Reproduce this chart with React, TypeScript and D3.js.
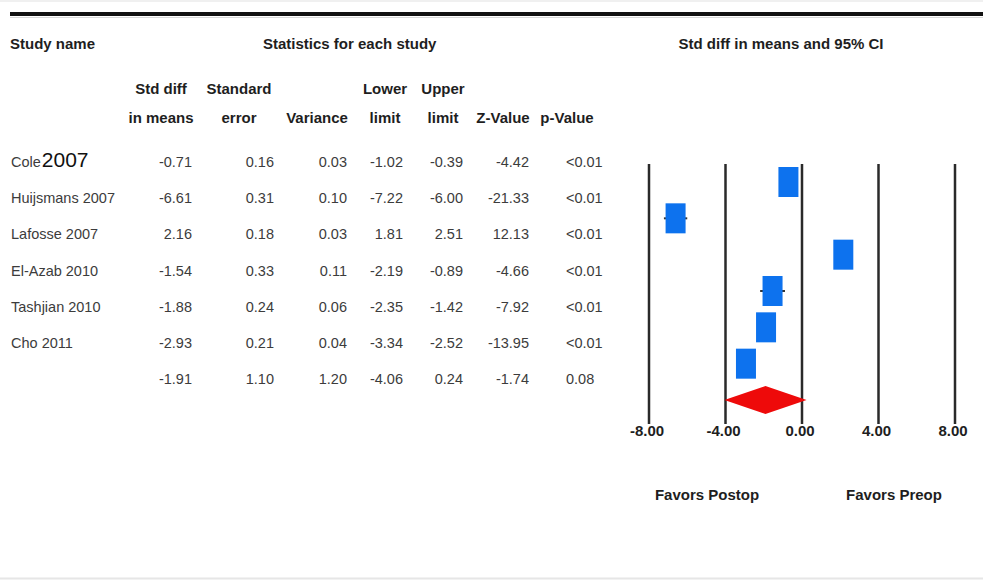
import React from "react";
import * as d3 from "d3";

// ---------- data ----------
const studyNames = ["Cole", "Huijsmans", "Lafosse", "El-Azab", "Tashjian", "Cho"];
const studyYears = ["2007", "2007", "2007", "2010", "2010", "2011"];
const stdDiff = [-0.71, -6.61, 2.16, -1.54, -1.88, -2.93];
const stdErr = [0.16, 0.31, 0.18, 0.33, 0.24, 0.21];
const variance = [0.03, 0.1, 0.03, 0.11, 0.06, 0.04];
const lowerLimit = [-1.02, -7.22, 1.81, -2.19, -2.35, -3.34];
const upperLimit = [-0.39, -6.0, 2.51, -0.89, -1.42, -2.52];
const zValue = [-4.42, -21.33, 12.13, -4.66, -7.92, -13.95];
const pValue = ["<0.01", "<0.01", "<0.01", "<0.01", "<0.01", "<0.01"];

const summaryStdDiff = -1.91;
const summaryStdErr = 1.1;
const summaryVariance = 1.2;
const summaryLower = -4.06;
const summaryUpper = 0.24;
const summaryZ = -1.74;
const summaryP = "0.08";

const axisTicks = [-8, -4, 0, 4, 8];
const favorLabels = ["Favors Postop", "Favors Preop"];

// ---------- layout ----------
const W = 983;
const H = 580;
const FONT = "'Liberation Sans', Arial, sans-serif";
const HEAD = "#1e1e1e";
const BODY = "#3c3c3c";
const BLUE = "#0d72ee";
const RED = "#ee0a0a";

const fmt = d3.formatLocale({
  decimal: ".",
  thousands: ",",
  grouping: [3],
  currency: ["", ""],
  minus: "-",
}).format(".2f");

export default function App() {
  const x = d3.scaleLinear().domain([-8, 8]).range([649, 955]);
  const nRows = studyNames.length + 1;
  // table row baselines
  const rowY = d3.scaleLinear().domain([0, nRows - 1]).range([167, 384]);
  // plot marker centres (plot is shifted below the table rows)
  const markY = d3.scaleLinear().domain([0, nRows - 1]).range([182, 400]);

  const numCols: { right: number; vals: number[]; sum: number }[] = [
    { right: 192, vals: stdDiff, sum: summaryStdDiff },
    { right: 274, vals: stdErr, sum: summaryStdErr },
    { right: 347, vals: variance, sum: summaryVariance },
    { right: 403, vals: lowerLimit, sum: summaryLower },
    { right: 463, vals: upperLimit, sum: summaryUpper },
    { right: 529, vals: zValue, sum: summaryZ },
  ];

  const colHeads: { cx: number; l1: string; l2: string }[] = [
    { cx: 161, l1: "Std diff", l2: "in means" },
    { cx: 239, l1: "Standard", l2: "error" },
    { cx: 317, l1: "", l2: "Variance" },
    { cx: 385, l1: "Lower", l2: "limit" },
    { cx: 443, l1: "Upper", l2: "limit" },
    { cx: 503, l1: "", l2: "Z-Value" },
    { cx: 567, l1: "", l2: "p-Value" },
  ];

  const boxW = 20;
  const boxH = 30;
  const dY = markY(nRows - 1);
  const diamond = [
    [x(summaryLower), dY],
    [x(summaryStdDiff), dY - 14],
    [x(summaryUpper), dY],
    [x(summaryStdDiff), dY + 14],
  ];

  return (
    <svg
      width={W}
      height={H}
      viewBox={`0 0 ${W} ${H}`}
      style={{ position: "absolute", left: 0, top: 0, background: "#fff" }}
      fontFamily={FONT}
    >
      <rect x={0} y={0} width={W} height={H} fill="#fff" />
      {/* top rule */}
      <line x1={0} x2={W} y1={1} y2={1} stroke="#f0f0f0" strokeWidth={2} />
      <line x1={10} x2={W} y1={14} y2={14} stroke="#111" strokeWidth={4} />
      <line x1={10} x2={W} y1={17.5} y2={17.5} stroke="#d8d8d8" strokeWidth={1} />
      {/* bottom rule */}
      <line x1={0} x2={W} y1={578.5} y2={578.5} stroke="#e6e6e6" strokeWidth={2} />

      {/* headers */}
      <g fontWeight="bold" fontSize={15} fill={HEAD}>
        <text x={10} y={49}>Study name</text>
        <text x={263} y={49}>Statistics for each study</text>
        <text x={781} y={49} textAnchor="middle">Std diff in means and 95% CI</text>
        {colHeads.map((h, i) => (
          <g key={i}>
            {h.l1 && (
              <text x={h.cx} y={94} textAnchor="middle">{h.l1}</text>
            )}
            <text x={h.cx} y={123} textAnchor="middle">{h.l2}</text>
          </g>
        ))}
      </g>

      {/* table rows */}
      <g fontSize={14.5} fill={BODY}>
        {studyNames.map((n, i) =>
          i === 0 ? (
            <text key={i} x={11} y={rowY(i)}>
              {n}
              <tspan fontSize={21} fill="#111" dx={1}>{studyYears[i]}</tspan>
            </text>
          ) : (
            <text key={i} x={11} y={rowY(i)}>{`${n} ${studyYears[i]}`}</text>
          )
        )}
        {numCols.map((c, ci) => (
          <g key={ci}>
            {c.vals.map((v, i) => (
              <text key={i} x={c.right} y={rowY(i)} textAnchor="end">{fmt(v)}</text>
            ))}
            <text x={c.right} y={rowY(nRows - 1)} textAnchor="end">{fmt(c.sum)}</text>
          </g>
        ))}
        {pValue.map((p, i) => (
          <text key={i} x={566} y={rowY(i)}>{p}</text>
        ))}
        <text x={566} y={rowY(nRows - 1)}>{summaryP}</text>
      </g>

      {/* forest plot grid */}
      <g>
        {axisTicks.map((t) => (
          <line key={t} x1={x(t)} x2={x(t)} y1={164} y2={424} stroke="#2a2a2a" strokeWidth={2.5} />
        ))}
      </g>

      {/* CIs and boxes */}
      <g>
        {stdDiff.map((v, i) => (
          <g key={i}>
            <line
              x1={x(lowerLimit[i])}
              x2={x(upperLimit[i])}
              y1={markY(i)}
              y2={markY(i)}
              stroke="#333"
              strokeWidth={2}
            />
            <rect
              x={x(v) - boxW / 2}
              y={markY(i) - boxH / 2}
              width={boxW}
              height={boxH}
              fill={BLUE}
            />
          </g>
        ))}
        <polygon points={diamond.map((p) => p.join(",")).join(" ")} fill={RED} />
      </g>

      {/* axis labels */}
      <g fontWeight="bold" fontSize={15} fill={HEAD}>
        {axisTicks.map((t) => (
          <text key={t} x={x(t) - 2} y={436} textAnchor="middle">{fmt(t)}</text>
        ))}
        <text x={707} y={500} textAnchor="middle">{favorLabels[0]}</text>
        <text x={894} y={500} textAnchor="middle">{favorLabels[1]}</text>
      </g>
    </svg>
  );
}
